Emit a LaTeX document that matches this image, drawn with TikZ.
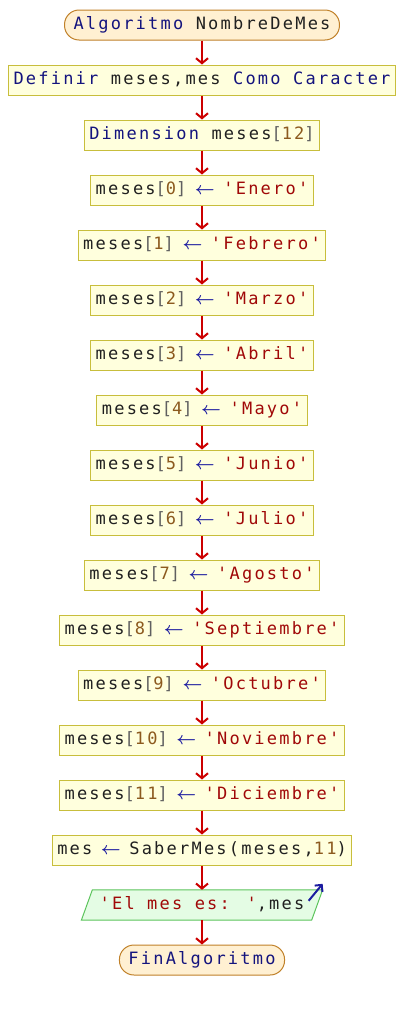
\documentclass[tikz,border=0pt]{standalone}
\usepackage{fontspec}
\usetikzlibrary{arrows.meta,calc}
\newfontfamily\psefont{DejaVu Sans Mono}[LetterSpace=13]

\definecolor{kwblue}{HTML}{14147E}
\definecolor{strred}{HTML}{A00808}
\definecolor{numbrown}{HTML}{8C5A1E}
\definecolor{brgray}{HTML}{606060}
\definecolor{asgblue}{HTML}{1C1CA0}
\definecolor{txtblack}{HTML}{202020}
\definecolor{boxfill}{HTML}{FFFFDD}
\definecolor{boxline}{HTML}{C8BE3C}
\definecolor{termfill}{HTML}{FFF0D2}
\definecolor{termline}{HTML}{C08028}
\definecolor{outfill}{HTML}{E4FCE4}
\definecolor{outborder}{HTML}{5CC45C}
\definecolor{flowred}{HTML}{CC0000}

\newcommand{\kw}[1]{\textcolor{kwblue}{#1}}
\newcommand{\str}[1]{\textcolor{strred}{#1}}
\newcommand{\num}[1]{\textcolor{numbrown}{#1}}
\newcommand{\br}[1]{\textcolor{brgray}{#1}}
\newcommand{\asg}{\makebox[12.1pt]{\textcolor{asgblue}{\boldmath$\leftarrow$}}}
\newcommand{\idx}[1]{meses\br{[}\num{#1}\br{]} \asg{} }

\tikzset{
	pse/.style={font=\psefont\fontsize{17}{20}\selectfont, text=txtblack,
		text height=12.5pt, text depth=3.5pt, minimum height=30pt, inner ysep=0pt},
	proc/.style={pse, draw=boxline, fill=boxfill, line width=1pt, inner xsep=5pt},
	term/.style={pse, draw=termline, fill=termfill, line width=1pt, inner xsep=9pt, rounded corners=14.5pt},
	outbox/.style={pse, inner xsep=6pt},
	outshape/.style={draw=outborder, fill=outfill, line width=1pt},
	flow/.style={draw=flowred, line width=2pt, -{Straight Barb[length=5pt,width=12pt,line width=2pt]}},
	outarrow/.style={draw=asgblue, line width=2pt, -{Straight Barb[length=5pt,width=10pt,line width=2pt]}},
}

\begin{document}
\begin{tikzpicture}[x=1pt,y=-1pt]
	%%%%% START %%%%%
	\useasboundingbox (0,0) rectangle (404,1010);
	
	\node[term] (start) at (202,25) {\kw{Algoritmo} NombreDeMes};
	\node[proc] (def) at (202,80) {\kw{Definir} meses,mes \kw{Como} \kw{Caracter}};
	\node[proc] (dim) at (202,135) {\kw{Dimension} meses\br{[}\num{12}\br{]}};
	
	\node[proc] (m0) at (202,190) {\idx{0}\str{'Enero'}};
	\node[proc] (m1) at (202,245) {\idx{1}\str{'Febrero'}};
	\node[proc] (m2) at (202,300) {\idx{2}\str{'Marzo'}};
	\node[proc] (m3) at (202,355) {\idx{3}\str{'Abril'}};
	\node[proc] (m4) at (202,410) {\idx{4}\str{'Mayo'}};
	\node[proc] (m5) at (202,465) {\idx{5}\str{'Junio'}};
	\node[proc] (m6) at (202,520) {\idx{6}\str{'Julio'}};
	\node[proc] (m7) at (202,575) {\idx{7}\str{'Agosto'}};
	\node[proc] (m8) at (202,630) {\idx{8}\str{'Septiembre'}};
	\node[proc] (m9) at (202,685) {\idx{9}\str{'Octubre'}};
	\node[proc] (m10) at (202,740) {\idx{10}\str{'Noviembre'}};
	\node[proc] (m11) at (202,795) {\idx{11}\str{'Diciembre'}};
	
	\node[proc] (call) at (202,850) {mes \asg{} SaberMes(meses,\num{11})};
	
	% salida (paralelogramo)
	\node[outbox] (out) at (202,905) {\phantom{'El mes es: ',mes}};
	\draw[outshape] ($(out.south west)+(-11,0)$) -- (out.south east)
		-- ($(out.north east)+(11,0)$) -- (out.north west) -- cycle;
	\node[pse] at (out) {\str{'El mes es: '},mes};
	
	\node[term] (fin) at (202,960) {\kw{FinAlgoritmo}};
	
	% flechas
	\draw[flow] (start) -- (def);
	\draw[flow] (def) -- (dim);
	\draw[flow] (dim) -- (m0);
	\draw[flow] (m0) -- (m1);
	\draw[flow] (m1) -- (m2);
	\draw[flow] (m2) -- (m3);
	\draw[flow] (m3) -- (m4);
	\draw[flow] (m4) -- (m5);
	\draw[flow] (m5) -- (m6);
	\draw[flow] (m6) -- (m7);
	\draw[flow] (m7) -- (m8);
	\draw[flow] (m8) -- (m9);
	\draw[flow] (m9) -- (m10);
	\draw[flow] (m10) -- (m11);
	\draw[flow] (m11) -- (call);
	\draw[flow] (call) -- (out);
	\draw[flow] (out) -- (fin);
	
	% icono de salida
	\coordinate (outcorner) at ($(out.north east)+(11,0)$);
	\coordinate (outtail) at ($(outcorner)+(-14,11)$);
	\coordinate (outtip) at ($(outcorner)+(0,-6)$);
	\draw[outarrow] (outtail) -- (outtip);
	
	%%%%% END %%%%%
\end{tikzpicture}
\end{document}
